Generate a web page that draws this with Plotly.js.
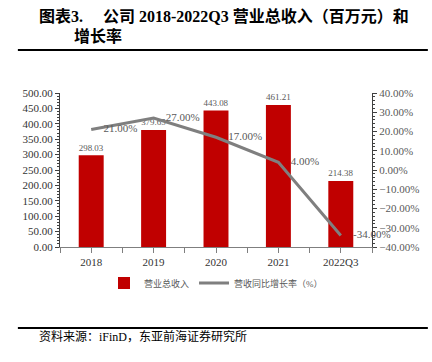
<!DOCTYPE html>
<html><head><meta charset="utf-8">
<script src="https://cdn.plot.ly/plotly-3.0.1.min.js"></script>
<style>html,body{margin:0;padding:0;background:#fff}#c{width:432px;height:362px}</style>
</head><body><div id="c"></div>
<script>
const categories = ['2018', '2019', '2020', '2021', '2022Q3'];
const revenue = [298.03, 379.65, 443.08, 461.21, 214.38];
const growth = [21.00, 27.00, 17.00, 4.00, -34.00];
const seriesNames = ['营业总收入', '营收同比增长率（%）'];
const titleLine1 = '图表3.&nbsp;&nbsp;&nbsp;&nbsp; 公司 2018-2022Q3 营业总收入（百万元）和';
const titleLine2 = '增长率';
const sourceText = '资料来源：iFinD，东亚前海证券研究所';

const xs = categories.map((_, i) => i);
const serif = '"Liberation Serif", "Noto Sans CJK SC", serif';
const cjk = '"Liberation Serif", "Noto Sans CJK SC", sans-serif';

const traces = [
  {type: 'bar', name: seriesNames[0], x: xs, y: revenue, width: 0.4,
   marker: {color: '#c00000'},
   text: revenue.map(v => v.toFixed(2)), textposition: 'outside', cliponaxis: false,
   textfont: {family: serif, size: 11, color: '#595959'}, hoverinfo: 'skip'},
  {type: 'scatter', mode: 'lines+markers+text', name: seriesNames[1], x: xs, y: growth, yaxis: 'y2',
   line: {color: '#7f7f7f', width: 3},
   marker: {size: 18, color: 'rgba(0,0,0,0)', line: {width: 0}},
   text: growth.map(v => v.toFixed(2) + '%'), textposition: 'middle right', cliponaxis: false,
   textfont: {family: serif, size: 11, color: '#595959'}, hoverinfo: 'skip'}
];

const layout = {
  width: 432, height: 362,
  margin: {l: 60, r: 60, t: 93, b: 115},
  paper_bgcolor: '#fff', plot_bgcolor: '#fff',
  showlegend: true,
  legend: {orientation: 'h', x: 0.5, xanchor: 'center', y: -0.234, yanchor: 'middle',
           font: {family: cjk, size: 9, color: '#595959'}, itemwidth: 30, traceorder: 'normal'},
  bargap: 0.6,
  xaxis: {range: [-0.5, 4.5], tickvals: xs, ticktext: categories, showgrid: false, zeroline: false,
          showline: true, linecolor: '#7f7f7f', linewidth: 1, ticks: 'outside', ticklen: 5, tickcolor: '#7f7f7f',
          minor: {tick0: 0.5, dtick: 1, ticks: 'outside', ticklen: 5, tickcolor: '#7f7f7f'},
          tickfont: {family: serif, size: 11, color: '#333'}, fixedrange: true},
  yaxis: {range: [0, 500], dtick: 50, tickformat: '.2f', showgrid: false, zeroline: false,
          showline: true, linecolor: '#404040', linewidth: 1, ticks: 'outside', ticklen: 4, tickcolor: '#404040',
          minor: {dtick: 10, ticks: 'outside', ticklen: 2, tickcolor: '#404040'},
          tickfont: {family: serif, size: 11, color: '#333'}, fixedrange: true},
  yaxis2: {range: [-40, 40], dtick: 10, tickformat: '.2f', ticksuffix: '%', overlaying: 'y', side: 'right',
           showgrid: false, zeroline: false, showline: true, linecolor: '#404040', linewidth: 1,
           ticks: 'outside', ticklen: 4, tickcolor: '#404040',
           minor: {dtick: 2, ticks: 'outside', ticklen: 2, tickcolor: '#404040'},
           tickfont: {family: serif, size: 11, color: '#595959'}, fixedrange: true},
  annotations: [
    {text: '<b>' + titleLine1 + '</b>', xref: 'paper', yref: 'paper', x: -0.0737, y: 1.5, xanchor: 'left', yanchor: 'middle',
     showarrow: false, font: {family: cjk, size: 16, color: '#000'}},
    {text: '<b>' + titleLine2 + '</b>', xref: 'paper', yref: 'paper', x: 0.0385, y: 1.37, xanchor: 'left', yanchor: 'middle',
     showarrow: false, font: {family: cjk, size: 16, color: '#000'}},
    {text: sourceText, xref: 'paper', yref: 'paper', x: -0.0737, y: -0.584, xanchor: 'left', yanchor: 'middle',
     showarrow: false, font: {family: cjk, size: 12, color: '#000'}}
  ],
  shapes: [
    {type: 'line', xref: 'paper', yref: 'paper', x0: -0.135, x1: 1.179, y0: 1.279, y1: 1.279, line: {color: '#000', width: 2}},
    {type: 'line', xref: 'paper', yref: 'paper', x0: -0.135, x1: 1.179, y0: -0.526, y1: -0.526, line: {color: '#000', width: 2}}
  ]
};

Plotly.newPlot('c', traces, layout, {staticPlot: true, displayModeBar: false});
</script>
</body></html>
